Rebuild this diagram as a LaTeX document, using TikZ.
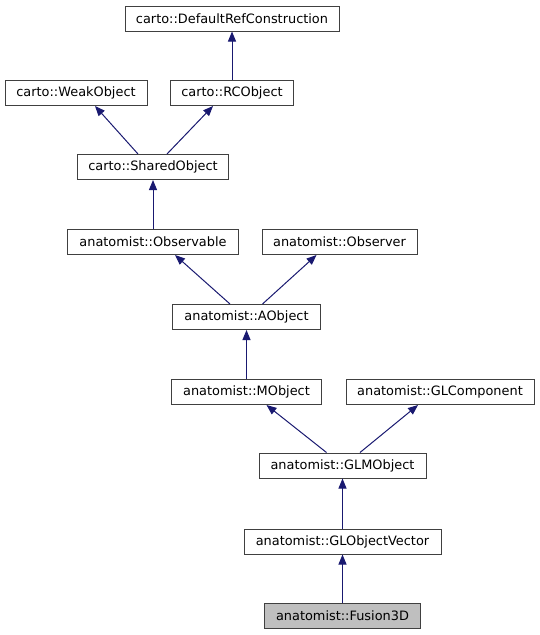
\documentclass[tikz,border=0pt]{standalone}
\usepackage{fontspec}
\setmainfont{DejaVu Sans}
\usetikzlibrary{arrows.meta,calc}
\definecolor{edgeblue}{HTML}{191970}
\definecolor{boxline}{HTML}{404040}
\begin{document}
\begin{tikzpicture}[x=1pt,y=-1pt,
  cls/.style={draw=boxline,line width=1pt,fill=white,inner sep=0pt,minimum height=25pt,
    font=\fontsize{12.9}{15}\selectfont,anchor=center},
  cur/.style={cls,fill=black!25},
  inh/.style={draw=edgeblue,line width=1pt,-{Triangle[length=10pt,width=8pt]}}]
\useasboundingbox (0,0) rectangle (539,635);
\node[cls,minimum width=214pt] (drc) at (232,18.5) {carto::DefaultRefConstruction};
\node[cls,minimum width=142pt] (weak) at (76,93) {carto::WeakObject};
\node[cls,minimum width=123pt] (rc) at (232,93) {carto::RCObject};
\node[cls,minimum width=151pt] (shared) at (153,167) {carto::SharedObject};
\node[cls,minimum width=171pt] (observable) at (153,242) {anatomist::Observable};
\node[cls,minimum width=155pt] (observer) at (339.5,242) {anatomist::Observer};
\node[cls,minimum width=148pt] (aobject) at (246.5,317) {anatomist::AObject};
\node[cls,minimum width=150pt] (mobject) at (246.5,392) {anatomist::MObject};
\node[cls,minimum width=188pt] (glcomp) at (440,392) {anatomist::GLComponent};
\node[cls,minimum width=167pt] (glm) at (342.5,465.5) {anatomist::GLMObject};
\node[cls,minimum width=197pt] (glov) at (342.5,541.5) {anatomist::GLObjectVector};
\node[cur,minimum width=156pt] (fusion) at (342.5,615.5) {anatomist::Fusion3D};
\draw[inh] (rc.north) -- (drc.south);
\draw[inh] ($(shared.north)+(-15,0)$) -- ($(weak.south)+(19,0)$);
\draw[inh] ($(shared.north)+(14,0)$) -- ($(rc.south)+(-19,0)$);
\draw[inh] (observable.north) -- (shared.south);
\draw[inh] ($(aobject.north)+(-16.5,0)$) -- ($(observable.south)+(22,0)$);
\draw[inh] ($(aobject.north)+(16,0)$) -- ($(observer.south)+(-23,0)$);
\draw[inh] (mobject.north) -- (aobject.south);
\draw[inh] ($(glm.north)+(-16,0)$) -- ($(mobject.south)+(20,0)$);
\draw[inh] ($(glm.north)+(17.5,0)$) -- ($(glcomp.south)+(-22,0)$);
\draw[inh] (glov.north) -- (glm.south);
\draw[inh] (fusion.north) -- (glov.south);
\end{tikzpicture}
\end{document}
